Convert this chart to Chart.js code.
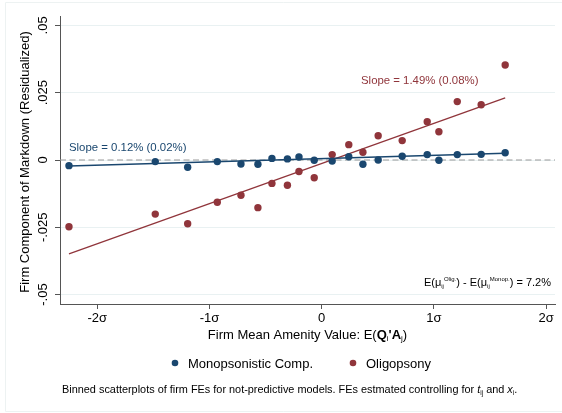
<!DOCTYPE html>
<html>
<head>
<meta charset="utf-8">
<script src="https://cdn.jsdelivr.net/npm/chart.js@4.4.0/dist/chart.umd.min.js"></script>
<style>
  html, body { margin: 0; padding: 0; background: #fff; }
  #wrap { width: 562px; height: 413px; }
</style>
</head>
<body>
<div id="wrap"><canvas id="chart" width="562" height="413"></canvas></div>
<script>
/* ---------------- DATA ---------------- */
const binX = [-2.252, -1.483, -1.194, -0.930, -0.719, -0.568, -0.443, -0.305, -0.202, -0.066,
  0.094, 0.242, 0.368, 0.504, 0.718, 0.941, 1.045, 1.209, 1.422, 1.636];
const monoVals = [-0.0021, -0.0006, -0.0027, -0.0006, -0.0015, -0.0016, 0.0006, 0.0004, 0.0011, -0.0001,
  -0.0004, 0.0012, -0.0016, 0.0000, 0.0014, 0.0020, -0.0001, 0.0020, 0.0021, 0.0027];
const oligVals = [-0.0248, -0.0201, -0.0237, -0.0157, -0.0131, -0.0177, -0.0087, -0.0094, -0.0043, -0.0066,
  0.0020, 0.0057, 0.0029, 0.0090, 0.0072, 0.0142, 0.0105, 0.0217, 0.0205, 0.0353];

// fitted lines (endpoints)
const fitX = [-2.252, 1.636];
const monoFit = [-0.0022, 0.0025];
const oligFit = [-0.0349, 0.0231];

const xTicks = [-2, -1, 0, 1, 2];
const xTickLabels = ["-2σ", "-1σ", "0", "1σ", "2σ"];
const yTicks = [-0.05, -0.025, 0, 0.025, 0.05];
const yTickLabels = ["-.05", "-.025", "0", ".025", ".05"];

const seriesNames = ["Monopsonistic Comp.", "Oligopsony"];

/* ---------------- STYLE ---------------- */
const BLUE = "#1a476f";
const RED = "#90353b";
const FONT = "'Liberation Sans', Arial, Helvetica, sans-serif";
const AXIS = "#555";

function pts(xs, ys) {
  return xs.map((x, i) => ({ x: x, y: ys[i] }));
}

/* rich text: parts drawn one after another */
function drawRich(ctx, parts, x, y, align) {
  let total = 0;
  parts.forEach((p) => {
    ctx.font = p.font;
    p.w = ctx.measureText(p.t).width;
    total += p.w;
  });
  let cx = align === "center" ? x - total / 2 : align === "right" ? x - total : x;
  ctx.textAlign = "left";
  parts.forEach((p) => {
    ctx.font = p.font;
    ctx.fillStyle = p.color || "#000";
    ctx.fillText(p.t, cx, y + (p.dy || 0));
    cx += p.w;
  });
}

const decorPlugin = {
  id: "decor",
  beforeDatasetsDraw(chart) {
    const ctx = chart.ctx;
    const a = chart.chartArea;
    const y0 = chart.scales.y.getPixelForValue(0);
    ctx.save();
    ctx.strokeStyle = "#999";
    ctx.lineWidth = 1.1;
    ctx.setLineDash([6, 3.5]);
    ctx.beginPath();
    ctx.moveTo(a.left, y0);
    ctx.lineTo(a.right, y0);
    ctx.stroke();
    ctx.restore();
  },
  afterDraw(chart) {
    const ctx = chart.ctx;
    const a = chart.chartArea;
    const ys = chart.scales.y;
    const xs = chart.scales.x;
    ctx.save();
    ctx.textBaseline = "middle";

    // faint page frame
    ctx.strokeStyle = "#edf2f2";
    ctx.lineWidth = 1;
    ctx.beginPath();
    ctx.moveTo(5.5, 411.5); ctx.lineTo(5.5, 2.5); ctx.lineTo(562, 2.5);
    ctx.moveTo(5.5, 411.5); ctx.lineTo(562, 411.5);
    ctx.stroke();

    // y tick labels (rotated)
    ctx.fillStyle = "#000";
    ctx.font = "13px " + FONT;
    yTicks.forEach((v, i) => {
      ctx.save();
      ctx.translate(43, ys.getPixelForValue(v));
      ctx.rotate(-Math.PI / 2);
      ctx.textAlign = "center";
      ctx.fillText(yTickLabels[i], 0, 0);
      ctx.restore();
    });

    // y title
    ctx.save();
    ctx.translate(25, (a.top + a.bottom) / 2 + 2);
    ctx.rotate(-Math.PI / 2);
    ctx.textAlign = "center";
    ctx.font = "13px " + FONT;
    ctx.fillText("Firm Component of Markdown (Residualized)", 0, 0);
    ctx.restore();

    // x title
    const f = "13px " + FONT;
    const fb = "bold 13px " + FONT;
    const fs = "8px " + FONT;
    drawRich(ctx, [
      { t: "Firm Mean Amenity Value: E(", font: f },
      { t: "Q", font: fb },
      { t: "i", font: fs, dy: 4 },
      { t: "'", font: fb },
      { t: "A", font: fb },
      { t: "j", font: fs, dy: 4 },
      { t: ")", font: f }
    ], (a.left + a.right) / 2, 335, "center");

    // slope labels
    ctx.font = "11.4px " + FONT;
    ctx.textAlign = "left";
    ctx.fillStyle = BLUE;
    ctx.fillText("Slope = 0.12% (0.02%)", xs.getPixelForValue(-2.252), 148);
    ctx.fillStyle = RED;
    ctx.fillText("Slope = 1.49% (0.08%)", 361, 81);

    // difference annotation
    const f11 = "11px " + FONT;
    const fsub = "6px " + FONT;
    drawRich(ctx, [
      { t: "E(μ", font: f11 },
      { t: "ij", font: fsub, dy: 3 },
      { t: "Olig.", font: fsub, dy: -4 },
      { t: ") - E(μ", font: f11 },
      { t: "ij", font: fsub, dy: 3 },
      { t: "Monop.", font: fsub, dy: -4 },
      { t: ") = 7.2%", font: f11 }
    ], 551, 283, "right");

    // legend
    ctx.font = "13px " + FONT;
    [[175, BLUE], [353, RED]].forEach((l, i) => {
      ctx.fillStyle = l[1];
      ctx.beginPath();
      ctx.arc(l[0], 363, 3.3, 0, Math.PI * 2);
      ctx.fill();
      ctx.fillStyle = "#000";
      ctx.textAlign = "left";
      ctx.fillText(seriesNames[i], l[0] + 13, 364);
    });

    // caption
    const fc = "10.9px " + FONT;
    const fci = "italic 10.9px " + FONT;
    const fcs = "6.5px " + FONT;
    drawRich(ctx, [
      { t: "Binned scatterplots of firm FEs for not-predictive models. FEs estmated controlling for ", font: fc },
      { t: "t", font: fci },
      { t: "ij", font: fcs, dy: 3 },
      { t: " and ", font: fc },
      { t: "x", font: fci },
      { t: "i", font: fcs, dy: 3 },
      { t: ".", font: fc }
    ], 62, 390, "left");

    ctx.restore();
  }
};

new Chart(document.getElementById("chart"), {
  type: "scatter",
  data: {
    datasets: [
      { label: seriesNames[0], data: pts(binX, monoVals), backgroundColor: BLUE, borderColor: BLUE,
        pointRadius: 3.7, borderWidth: 0 },
      { label: seriesNames[1], data: pts(binX, oligVals), backgroundColor: RED, borderColor: RED,
        pointRadius: 3.7, borderWidth: 0 },
      { label: "mono fit", data: pts(fitX, monoFit), showLine: true, borderColor: BLUE,
        borderWidth: 1.5, pointRadius: 0 },
      { label: "olig fit", data: pts(fitX, oligFit), showLine: true, borderColor: RED,
        borderWidth: 1.3, pointRadius: 0 }
    ]
  },
  options: {
    responsive: false,
    animation: false,
    devicePixelRatio: 1,
    layout: { padding: { left: 0, top: 16, right: 7, bottom: 0 } },
    plugins: { legend: { display: false }, tooltip: { enabled: false } },
    scales: {
      x: {
        type: "linear",
        min: -2.332,
        max: 2.08,
        afterBuildTicks: (s) => { s.ticks = xTicks.map((v) => ({ value: v })); },
        afterFit: (s) => { s.height = 109; },
        ticks: {
          autoSkip: false, maxRotation: 0, padding: 2, color: "#000",
          font: { family: FONT, size: 13 },
          callback: (v) => xTickLabels[xTicks.indexOf(v)]
        },
        grid: { drawOnChartArea: false, drawTicks: true, tickLength: 5, tickColor: AXIS },
        border: { display: true, color: AXIS, width: 1 }
      },
      y: {
        type: "linear",
        min: -0.0535,
        max: 0.0535,
        afterBuildTicks: (s) => { s.ticks = yTicks.map((v) => ({ value: v })); },
        afterFit: (s) => { s.width = 60; },
        ticks: { display: false },
        grid: { color: "#e9f1f2", lineWidth: 1, drawTicks: true, tickLength: 5, tickColor: AXIS },
        border: { display: true, color: AXIS, width: 1 }
      }
    }
  },
  plugins: [decorPlugin]
});
</script>
</body>
</html>
